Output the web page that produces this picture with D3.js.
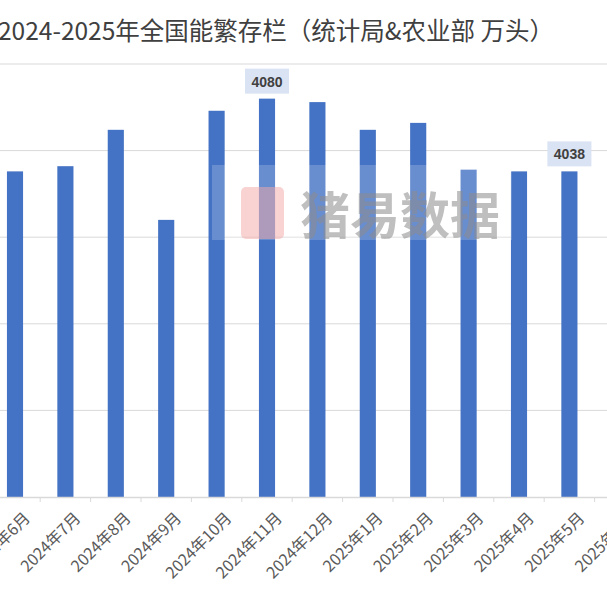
<!DOCTYPE html>
<html><head><meta charset="utf-8">
<script src="https://cdn.jsdelivr.net/npm/d3@7"></script>
<style>body{margin:0;background:#fff;font-family:"Noto Sans CJK SC","Noto Sans",sans-serif}</style>
</head><body><div id="chart"></div>
<script>
// chart values
var months = ["2024年6月","2024年7月","2024年8月","2024年9月","2024年10月","2024年11月","2024年12月",
  "2025年1月","2025年2月","2025年3月","2025年4月","2025年5月","2025年6月"];
var stock = [4038, 4041, 4062, 4010, 4073, 4080, 4078, 4062, 4066, 4039, 4038, 4038, null];
var labelled = ["2024年11月", "2025年5月"];
var yTicks = [3850, 3900, 3950, 4000, 4050, 4100];

var svgWidth = 607, svgHeight = 607;
var svg = d3.select("#chart").append("svg")
  .attr("width", svgWidth).attr("height", svgHeight);

var x = d3.scaleBand().domain(months).range([-10.2, 645]).paddingInner(0.68).paddingOuter(0.34);
var y = d3.scaleLinear().domain([3850, 4100]).range([497, 64]);

// gridlines
svg.append("g").selectAll("line").data(yTicks.slice(1)).enter().append("line")
  .attr("x1", 0).attr("x2", svgWidth)
  .attr("y1", d => y(d)).attr("y2", d => y(d))
  .attr("stroke", "#d9d9d9").attr("stroke-width", 1);

// bars
svg.append("g").selectAll("rect").data(months.filter((m, i) => stock[i] != null)).enter().append("rect")
  .attr("x", d => x(d))
  .attr("width", x.bandwidth())
  .attr("y", d => y(stock[months.indexOf(d)]))
  .attr("height", d => y(3850) - y(stock[months.indexOf(d)]))
  .attr("fill", "#4472c4");

// x axis
var xAxis = d3.axisBottom(x).tickSize(0).tickFormat(d => d);
var gx = svg.append("g").attr("transform", "translate(0,497)").call(xAxis);
gx.select(".domain").attr("stroke", "#d9d9d9").attr("stroke-width", 1.5);
gx.selectAll("text")
  .attr("font-size", 16).attr("fill", "#595959")
  .attr("font-family", '"Noto Sans CJK SC",sans-serif')
  .attr("text-anchor", "end")
  .attr("dy", "0.35em")
  .attr("transform", "translate(10,16) rotate(-45)");
// category separator ticks
gx.selectAll(".sep").data(months).enter().append("line")
  .attr("x1", d => x(d) - x.step() * 0.34).attr("x2", d => x(d) - x.step() * 0.34)
  .attr("y1", 0).attr("y2", 5).attr("stroke", "#d9d9d9");

// data labels
var lab = svg.append("g").selectAll("g").data(labelled).enter().append("g")
  .attr("transform", d => `translate(${x(d) + x.bandwidth() / 2},${y(stock[months.indexOf(d)]) - 17})`);
lab.append("rect").attr("x", -22).attr("y", -13).attr("width", 44).attr("height", 25).attr("fill", "#dae3f3");
lab.append("text").attr("text-anchor", "middle").attr("dy", "0.35em")
  .attr("font-size", 14).attr("font-weight", "bold").attr("fill", "#404040")
  .attr("font-family", "Liberation Sans, Arial, sans-serif")
  .text(d => stock[months.indexOf(d)]);

// watermark
var wm = svg.append("g");
wm.append("rect").attr("x", 212).attr("y", 165).attr("width", 300).attr("height", 75).attr("fill", "#fff").attr("opacity", 0.2);
wm.append("rect").attr("x", 241).attr("y", 187).attr("width", 43).attr("height", 52).attr("rx", 5).attr("fill", "#f4a6a6").attr("opacity", 0.5);
wm.append("text").attr("x", 300).attr("y", 234).attr("font-size", 50).attr("font-weight", "bold")
  .attr("fill", "#8c8c8c").attr("opacity", 0.55).attr("font-family", '"Noto Sans CJK SC",sans-serif').text("猪易数据");

// title
svg.append("text").attr("x", -2).attr("y", 40).attr("font-size", 24.5).attr("fill", "#404040")
  .attr("font-family", '"Noto Sans CJK SC",sans-serif')
  .text("2024-2025年全国能繁存栏（统计局&农业部 万头）");
</script></body></html>
